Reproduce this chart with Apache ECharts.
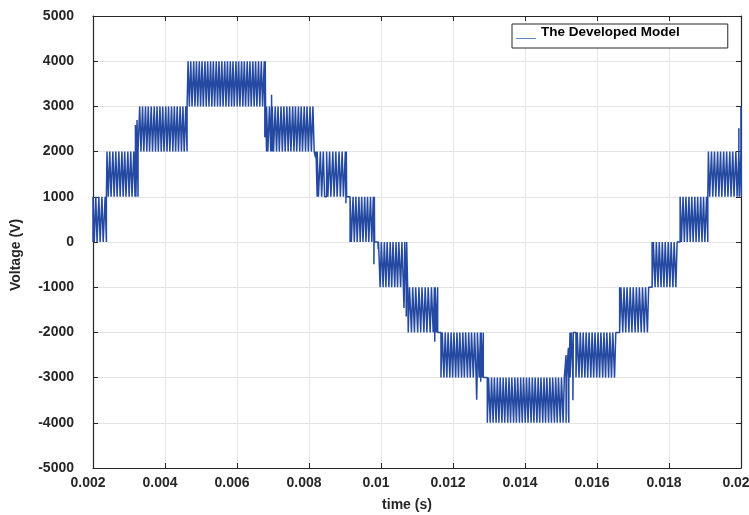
<!DOCTYPE html>
<html>
<head>
<meta charset="utf-8">
<script src="https://cdn.jsdelivr.net/npm/echarts@6/dist/echarts.min.js"></script>
<style>
    html, body { margin: 0; padding: 0; background: #fff; }
    #chart { width: 749px; height: 515px; }
</style>
</head>
<body>
<div id="chart"></div>
<script>
// all times in microseconds, voltages in V
var bandStart = [2000, 2389, 3298, 4641, 6821, 8227, 9141, 9975, 10757, 11666, 12953, 15252, 16629, 17531, 18309, 19095];
var bandEnd   = [2372, 3251, 4613, 6793, 8144, 9045, 9823, 10740, 11574, 12842, 15252, 16522, 17435, 18226, 19078, 19976];
var bandRest  = [0, 1000, 2000, 3000, 2000, 1000, 0, 0, -1000, -2000, -3000, -2000, -1000, 0, 0, 1000];
var bandPeak  = [1000, 2000, 3000, 4000, 3000, 2000, 1000, -1000, -2000, -3000, -4000, -3000, -2000, -1000, 1000, 2000];

// start of each switching pulse inside a band
var pulses = [
    [2000, 2078, 2163, 2248, 2337],
    [2389, 2466, 2552, 2634, 2719, 2803, 2881, 2968, 3049, 3133, 3216],
    [3298, 3377, 3459, 3536, 3618, 3701, 3779, 3860, 3937, 4021, 4099, 4182, 4260, 4339, 4421, 4498, 4578],
    [4641, 4716, 4797, 4874, 4953, 5029, 5110, 5186, 5266, 5343, 5424, 5500, 5578, 5659, 5735, 5814, 5889, 5971, 6046, 6127, 6203, 6284, 6360, 6441, 6517, 6598, 6676, 6758],
    [6821, 6902, 6980, 7063, 7140, 7224, 7303, 7386, 7463, 7547, 7624, 7707, 7784, 7868, 7946, 8030, 8109],
    [8227, 8316, 8398, 8489, 8573, 8662, 8746, 8836, 8921, 9010],
    [9141, 9224, 9303, 9387, 9464, 9547, 9626, 9709, 9788],
    [9975, 10058, 10136, 10220, 10298, 10382, 10460, 10545, 10623, 10705],
    [10757, 10846, 10929, 11019, 11103, 11192, 11276, 11366, 11450, 11539],
    [11666, 11749, 11829, 11912, 11990, 12074, 12153, 12238, 12316, 12401, 12480, 12564, 12643, 12727, 12807],
    [12953, 13035, 13114, 13197, 13276, 13359, 13438, 13521, 13599, 13683, 13761, 13845, 13924, 14007, 14085, 14169, 14248, 14331, 14409, 14493, 14571, 14655, 14734, 14817, 14895, 14979, 15058, 15141, 15217],
    [15252, 15336, 15416, 15501, 15581, 15664, 15744, 15829, 15909, 15993, 16073, 16158, 16238, 16323, 16403, 16487],
    [16629, 16716, 16799, 16887, 16971, 17059, 17142, 17229, 17314, 17400],
    [17531, 17614, 17695, 17779, 17860, 17944, 18025, 18109, 18191],
    [18309, 18391, 18471, 18554, 18634, 18717, 18797, 18881, 18960, 19043],
    [19095, 19181, 19264, 19351, 19432, 19519, 19602, 19689, 19771, 19857, 19941]
];
var pulseWidth = 35;

// short glitches: [time, from, to]
var spikes = [
    [3179, 2000, 2590], [3223, 2000, 2700], [6773, 3000, 2320], [6960, 3000, 3260],
    [8183, 2000, 1870], [9025, 1000, 856], [9803, 0, -490], [9920, 0, -160],
    [10638, -1000, -1460], [10701, -1000, -1650], [11493, -2000, -2206],
    [12658, -3000, -3490], [12770, -3000, -3090], [15140, -3000, -2500],
    [15205, -2340, -3720], [15330, -3000, -3500], [19940, 2000, 2515], [19998, 2000, 3000]
];

var seriesName = 'The Developed Model';

function levelAt(pts, t) {
    var v = pts[0][1];
    for (var i = 0; i < pts.length && pts[i][0] <= t; i++) v = pts[i][1];
    return v;
}

// level changes [t, new value], then drawn as a polyline with vertical edges
function buildWave() {
    var ev = [];
    for (var b = 0; b < bandStart.length; b++) {
        ev.push([bandStart[b], bandRest[b]]);
        pulses[b].forEach(function (t) {
            ev.push([t, bandPeak[b]]);
            ev.push([t + pulseWidth, bandRest[b]]);
        });
        if (b + 1 < bandStart.length) {
            var nb = b + 1;
            var shared = [bandRest[b], bandPeak[b]].filter(function (v) {
                return v === bandRest[nb] || v === bandPeak[nb];
            })[0];
            ev.push([bandEnd[b], shared]);
        }
    }
    var extra = [];
    spikes.forEach(function (s) {
        var back = levelAt(ev, s[0]);
        extra.push([s[0], s[1]], [s[0], s[2]], [s[0] + 12, back]);
    });
    var all = ev.concat(extra);
    all.sort(function (a, b) { return a[0] - b[0]; });

    var out = [[all[0][0] / 1e6, all[0][1]]];
    for (var i = 1; i < all.length; i++) {
        out.push([all[i][0] / 1e6, all[i - 1][1]]);
        out.push([all[i][0] / 1e6, all[i][1]]);
    }
    return out;
}

var font = "'Liberation Sans', Arial, Helvetica, sans-serif";
var axisColor = '#262626';
var gridColor = '#e4e4e4';

var myChart = echarts.init(document.getElementById('chart'), null, { renderer: 'canvas' });

var option = {
    animation: false,
    textStyle: { fontFamily: font },
    grid: { left: 93, right: 8, top: 16, bottom: 47, outerBoundsMode: 'none' },
    legend: {
        left: 512,
        top: 24,
        padding: [1, 48, 9, 4],
        itemWidth: 20,
        itemHeight: 14,
        backgroundColor: '#fff',
        borderColor: axisColor,
        borderWidth: 1,
        borderRadius: 0,
        selectedMode: false,
        textStyle: { fontWeight: 'bold', fontSize: 13.5, color: '#000', fontFamily: font },
        data: [{
            name: seriesName,
            icon: 'path://M0,0L0.01,0L0.01,0.01Z M0,13L20,13L20,14L0,14Z',
            itemStyle: { color: '#5a86cc', borderWidth: 0 }
        }]
    },
    xAxis: [{
        type: 'value',
        min: 0.002,
        max: 0.02,
        interval: 0.002,
        position: 'bottom',
        name: 'time (s)',
        nameLocation: 'middle',
        nameGap: 30,
        nameTextStyle: { fontWeight: 'bold', fontSize: 14, color: axisColor, padding: [0, 20, 0, 0] },
        axisLine: { show: true, onZero: false, lineStyle: { color: axisColor, width: 1.2 } },
        axisTick: { show: true, inside: true, length: 5, lineStyle: { color: axisColor } },
        axisLabel: {
            fontWeight: 'bold', fontSize: 14, color: axisColor, margin: 8, padding: [0, 10, 0, 0],
            formatter: function (v) { return String(+v.toFixed(3)); }
        },
        splitLine: { show: true, lineStyle: { color: gridColor, width: 1 } }
    }, {
        type: 'value',
        min: 0.002,
        max: 0.02,
        interval: 0.002,
        position: 'top',
        axisLine: { show: true, onZero: false, lineStyle: { color: axisColor, width: 1.2 } },
        axisTick: { show: true, inside: true, length: 5, lineStyle: { color: axisColor } },
        axisLabel: { show: false },
        splitLine: { show: false }
    }],
    yAxis: [{
        type: 'value',
        min: -5000,
        max: 5000,
        interval: 1000,
        position: 'left',
        name: 'Voltage (V)',
        nameLocation: 'middle',
        nameRotate: 90,
        nameGap: 70,
        nameTextStyle: { fontWeight: 'bold', fontSize: 14, color: axisColor, padding: [0, 26, 0, 0] },
        axisLine: { show: true, onZero: false, lineStyle: { color: axisColor, width: 1.2 } },
        axisTick: { show: true, inside: true, length: 5, lineStyle: { color: axisColor } },
        axisLabel: {
            fontWeight: 'bold', fontSize: 14, color: axisColor, margin: 19, padding: [0, 0, 8, 0],
            formatter: function (v) { return String(v); }
        },
        splitLine: { show: true, lineStyle: { color: gridColor, width: 1 } }
    }, {
        type: 'value',
        min: -5000,
        max: 5000,
        interval: 1000,
        position: 'right',
        axisLine: { show: true, onZero: false, lineStyle: { color: axisColor, width: 1.2 } },
        axisTick: { show: true, inside: true, length: 5, lineStyle: { color: axisColor } },
        axisLabel: { show: false },
        splitLine: { show: false }
    }],
    series: [{
        name: seriesName,
        type: 'line',
        xAxisIndex: 0,
        yAxisIndex: 0,
        symbol: 'none',
        showSymbol: false,
        sampling: null,
        clip: true,
        lineStyle: { color: '#2449a2', width: 1.5 },
        itemStyle: { color: '#2449a2' },
        data: buildWave()
    }]
};

myChart.setOption(option);
window.addEventListener('resize', myChart.resize);
</script>
</body>
</html>
